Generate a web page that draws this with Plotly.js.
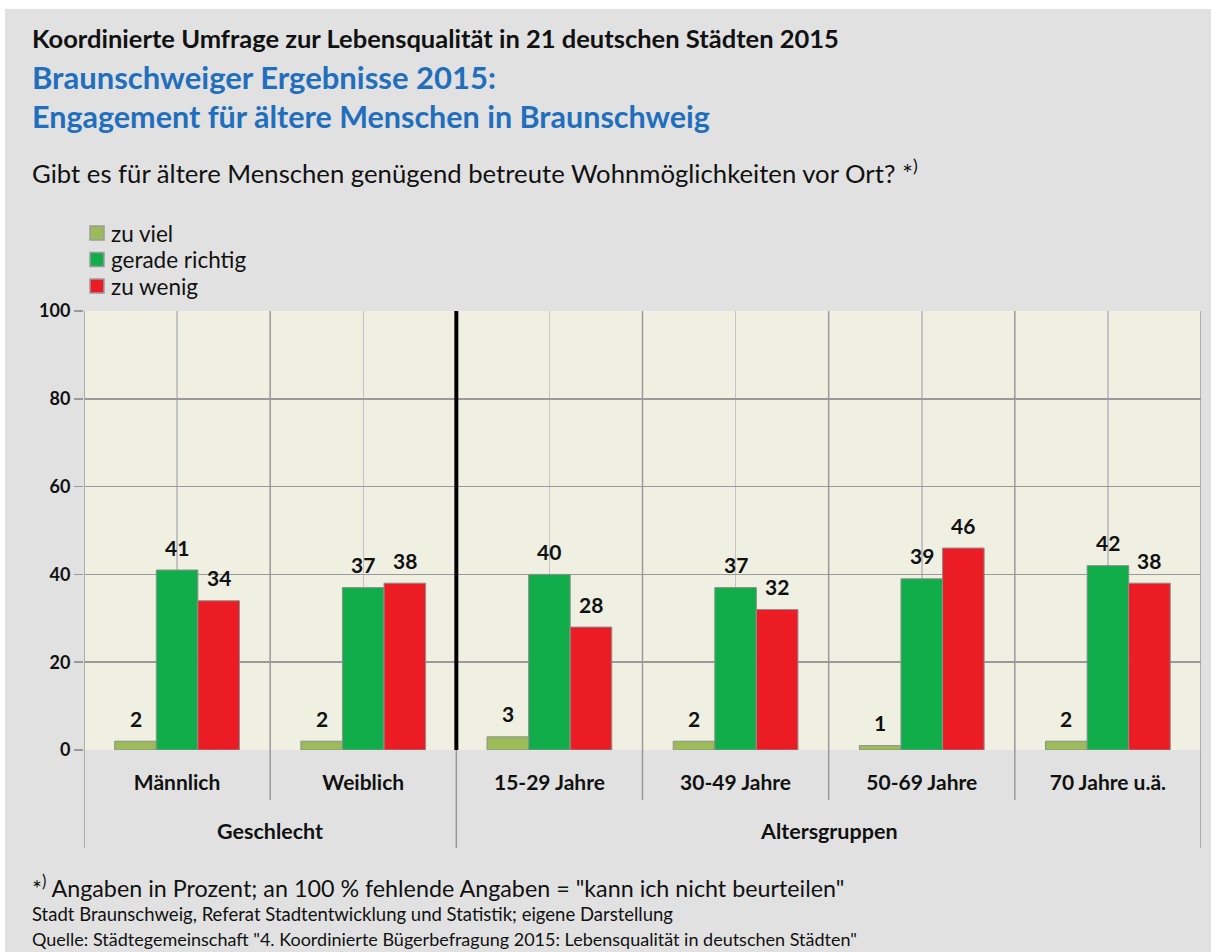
<!DOCTYPE html>
<html>
<head>
<meta charset="utf-8">
<script src="https://cdn.plot.ly/plotly-3.0.1.min.js"></script>
<style>
  html, body { margin: 0; padding: 0; background: #ffffff; }
  #chart { position: absolute; left: 5px; top: 9px; width: 1206px; height: 943px; }
</style>
</head>
<body>
<div id="chart"></div>
<script>
// ---- data ----
const categories = ["Männlich", "Weiblich", "15-29 Jahre", "30-49 Jahre", "50-69 Jahre", "70 Jahre u.ä."];
const groups = ["Geschlecht", "Altersgruppen"];
const seriesNames = ["zu viel", "gerade richtig", "zu wenig"];
const zuViel = [2, 2, 3, 2, 1, 2];
const geradeRichtig = [41, 37, 40, 37, 39, 42];
const zuWenig = [34, 38, 28, 32, 46, 38];
const yTicks = [0, 20, 40, 60, 80, 100];

// ---- styling ----
const FONT = "Lato, 'Open Sans', sans-serif";
const colors = ["#9bbb59", "#12ad4b", "#ec1c24"];
const L = 79, T = 302, W = 1117, H = 439;
const px = x => (x - 84) / W;     // absolute page x -> paper
const py = y => (750 - y) / H;    // absolute page y -> paper

const seriesVals = [zuViel, geradeRichtig, zuWenig];
const traces = seriesVals.map((vals, i) => ({
  type: "bar",
  name: seriesNames[i],
  x: categories,
  y: vals,
  marker: { color: colors[i], line: { color: "#8f8f8f", width: 1 } },
  hoverinfo: "x+y+name",
  showlegend: false
}));

const barPx = W / categories.length * (1 - 0.33) / 3;
const annotations = [];
seriesVals.forEach((vals, i) => {
  vals.forEach((v, j) => {
    annotations.push({
      x: categories[j], y: v, xref: "x", yref: "y",
      text: String(v), showarrow: false,
      xshift: (i - 1) * barPx, yshift: 23, yanchor: "middle",
      font: { family: FONT, size: 21, color: "#111", weight: 700 }
    });
  });
});
// group labels
[0.5, 3.5].forEach((x, g) => annotations.push({ x: x, y: py(831), xref: "x", yref: "paper",
  text: groups[g], showarrow: false, yanchor: "middle",
  font: { family: FONT, size: 21.5, color: "#111", weight: 700 } }));

// titles / texts
const texts = [
  { t: "Koordinierte Umfrage zur Lebensqualität in 21 deutschen Städten 2015", y: 38, size: 25.5, color: "#111", w: 700 },
  { t: "Braunschweiger Ergebnisse 2015:", y: 77, size: 31, color: "#1f6fbe", w: 700 },
  { t: "Engagement für ältere Menschen in Braunschweig", y: 116, size: 30.5, color: "#1f6fbe", w: 700 },
  { t: "Gibt es für ältere Menschen genügend betreute Wohnmöglichkeiten vor Ort? *<sup>)</sup>", y: 171, size: 25.7, color: "#111", w: 400 },
  { t: "*<sup>)</sup> Angaben in Prozent; an 100 % fehlende Angaben = \"kann ich nicht beurteilen\"", y: 886, size: 23.3, color: "#111", w: 400 },
  { t: "Stadt Braunschweig, Referat Stadtentwicklung und Statistik; eigene Darstellung", y: 914, size: 18.5, color: "#111", w: 400 },
  { t: "Quelle: Städtegemeinschaft \"4. Koordinierte Bügerbefragung 2015: Lebensqualität in deutschen Städten\"", y: 939, size: 18, color: "#111", w: 400 }
];
texts.forEach(o => annotations.push({
  x: px(30), y: py(o.y), xref: "paper", yref: "paper", xanchor: "left", yanchor: "middle",
  text: o.t, showarrow: false, font: { family: FONT, size: o.size, color: o.color, weight: o.w }
}));

const shapes = [];
// legend (manual, to match the compact spacing of the reference)
const legendY = [233, 259.5, 286];
seriesNames.forEach((n, i) => {
  shapes.push({ type: "rect", xref: "paper", yref: "paper",
    x0: px(90), x1: px(104), y0: py(legendY[i] - 7), y1: py(legendY[i] + 7),
    fillcolor: colors[i], line: { color: "#9a9a9a", width: 1.5 } });
  annotations.push({ x: px(109), y: py(legendY[i]), xref: "paper", yref: "paper",
    xanchor: "left", yanchor: "middle", text: n, showarrow: false,
    font: { family: FONT, size: 22.5, color: "#111" } });
});

// separator lines
const gray = "#9a9a9a";
[0.5, 2.5, 3.5, 4.5].forEach(x => shapes.push({ type: "line", xref: "x", yref: "paper",
  x0: x, x1: x, y0: py(800), y1: 1, line: { color: gray, width: 1.5 } }));
[-0.5, 5.5].forEach(x => shapes.push({ type: "line", xref: "x", yref: "paper",
  x0: x, x1: x, y0: py(848), y1: 1, line: { color: gray, width: 1.5 } }));
shapes.push({ type: "line", xref: "x", yref: "paper", x0: 1.5, x1: 1.5, y0: py(848), y1: 0,
  line: { color: gray, width: 1.5 } });
shapes.push({ type: "line", xref: "x", yref: "paper", x0: 1.5, x1: 1.5, y0: 0, y1: 1,
  line: { color: "#000", width: 4 } });

const layout = {
  width: 1206, height: 943,
  margin: { l: L, r: 10, t: T, b: 943 - T - H },
  paper_bgcolor: "#e1e1e1",
  plot_bgcolor: "#efefe2",
  barmode: "group", bargap: 0.33, bargroupgap: 0,
  showlegend: false,
  xaxis: {
    type: "category", range: [-0.5, 5.5], fixedrange: true,
    showgrid: true, gridcolor: "#c4c4c4", gridwidth: 1.5,
    showline: false, zeroline: false, ticks: "",
    ticklabelstandoff: 18,
    tickfont: { family: FONT, size: 21, color: "#111", weight: 700 }
  },
  yaxis: {
    range: [0, 100], tickvals: yTicks, fixedrange: true,
    showgrid: true, gridcolor: gray, gridwidth: 1.5,
    zeroline: false, showline: false,
    ticks: "outside", ticklen: 9, tickcolor: gray, tickwidth: 1.5,
    tickfont: { family: FONT, size: 18, color: "#111", weight: 700 }
  },
  annotations: annotations,
  shapes: shapes
};

Plotly.newPlot("chart", traces, layout, { displayModeBar: false, staticPlot: true });
</script>
</body>
</html>
